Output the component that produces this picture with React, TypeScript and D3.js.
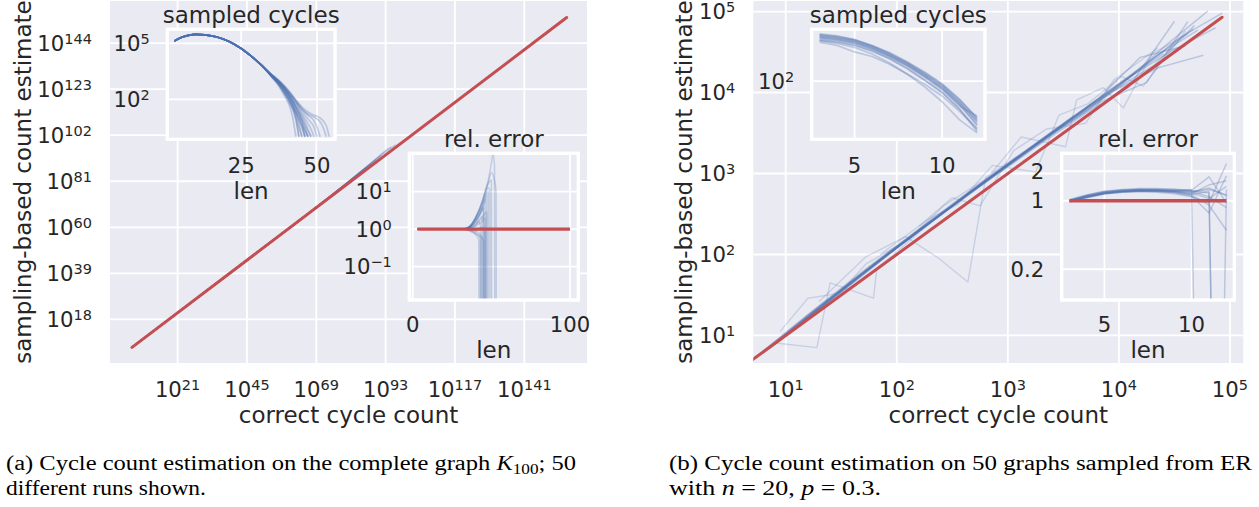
import React from "react";
import * as d3 from "d3";

// ======================= DATA =======================
const Z = -Infinity; // log10 of a zero estimate

// ---- (a) complete graph K100 ----
// cycle lengths and log10 of the true number of cycles of that length
const k100Lengths = [3, 10, 20, 28, 32, 36, 40, 41, 42, 43, 44, 45, 46, 47, 48, 49, 50, 51, 52, 53, 54, 60, 70, 80, 90, 100];
const k100TrueLog10 = [5.209, 18.497, 37.513, 52.435, 59.77, 67.01, 74.147, 75.914, 77.675, 79.428, 81.174, 82.912, 84.643, 86.366, 88.081, 89.788, 91.487, 93.177, 94.859, 96.532, 98.196, 107.979, 123.4, 137.38, 149.155, 155.669];

// sampled cycles per length (log10), shared beginning of all runs
const k100SampledHead: [number, number][] = [[3, 5.12], [5, 5.3], [8, 5.44], [10, 5.48], [13, 5.45], [17, 5.34], [21, 5.1], [25, 4.72], [28, 4.35], [32, 3.78]];
// per-run continuation [len, log10 count]; the last entry is a single sampled cycle
const k100SampledTails: [number, number][][] = [
  [[35, 3.2], [37, 2.8], [39, 2.25], [41, 1.6], [42, 1.0], [43, 0]],
  [[35, 3.24], [37, 2.88], [39, 2.4], [41, 1.85], [43, 0.9], [44, 0]],
  [[35, 3.22], [37, 2.85], [39, 2.35], [41, 1.75], [43, 1.0], [44, 0]],
  [[35, 3.27], [37, 2.95], [39, 2.55], [41, 2.05], [43, 1.3], [44, 0.7], [45, 0]],
  [[35, 3.23], [37, 2.87], [39, 2.42], [41, 1.9], [43, 1.1], [44, 0.5], [45, 0]],
  [[35, 3.28], [37, 2.97], [39, 2.6], [41, 2.12], [43, 1.5], [45, 0.6], [46, 0]],
  [[35, 3.25], [37, 2.9], [39, 2.47], [41, 1.95], [43, 1.3], [45, 0.45], [46, 0]],
  [[35, 3.3], [37, 3.0], [39, 2.63], [41, 2.18], [43, 1.6], [45, 0.8], [46, 0]],
  [[35, 3.29], [37, 2.98], [39, 2.62], [41, 2.16], [43, 1.6], [45, 0.95], [46, 0.5], [47, 0]],
  [[35, 3.26], [37, 2.93], [39, 2.52], [41, 2.02], [43, 1.42], [45, 0.8], [46, 0.4], [47, 0]],
  [[35, 3.24], [37, 2.89], [39, 2.45], [41, 1.92], [43, 1.3], [45, 0.6], [46, 0.3], [47, 0]],
  [[35, 3.31], [37, 3.02], [39, 2.67], [41, 2.25], [43, 1.75], [45, 1.15], [47, 0.4], [48, 0]],
  [[35, 3.28], [37, 2.96], [39, 2.58], [41, 2.12], [43, 1.6], [45, 1.0], [47, 0.3], [48, 0]],
  [[35, 3.3], [37, 3.01], [39, 2.66], [41, 2.25], [43, 1.78], [45, 1.25], [47, 0.7], [48, 0.4], [49, 0]],
  [[35, 3.32], [37, 3.04], [39, 2.7], [41, 2.32], [43, 1.88], [45, 1.4], [47, 0.95], [49, 0.5], [50, 0]],
  [[35, 3.33], [37, 3.06], [39, 2.74], [41, 2.36], [43, 1.93], [45, 1.5], [47, 1.15], [49, 0.85], [50, 0.5], [51, 0]],
  [[35, 3.32], [37, 3.05], [39, 2.72], [41, 2.33], [43, 1.9], [45, 1.5], [47, 1.2], [49, 1.05], [51, 0.8], [52, 0.5], [53, 0]],
  [[35, 3.34], [37, 3.08], [39, 2.77], [41, 2.4], [43, 1.98], [45, 1.6], [47, 1.32], [49, 1.15], [51, 1.0], [53, 0.6], [54, 0]],
];
// relative error (log10 of estimate / true), shared beginning and per-run continuation
const k100RelErrHead: [number, number][] = [[3, 0], [10, 0], [20, 0], [28, 0]];
const k100RelErrTails: [number, number][][] = [
  [[32, 0], [36, -0.05], [40, -0.15], [42, -0.3], [43, Z]],
  [[32, 0], [36, 0.03], [40, 0.1], [42, 0.2], [43, 0.1], [44, Z]],
  [[32, 0], [36, -0.02], [40, -0.1], [43, -0.25], [44, Z]],
  [[32, 0], [36, 0.04], [40, 0.15], [43, 0.3], [44, 0.35], [45, Z]],
  [[32, 0], [36, 0], [40, -0.05], [44, -0.2], [45, Z]],
  [[32, 0], [36, 0.05], [40, 0.2], [43, 0.4], [45, 0.55], [46, Z]],
  [[32, 0], [36, -0.03], [40, -0.12], [43, -0.2], [45, -0.3], [46, Z]],
  [[32, 0], [36, 0.06], [40, 0.25], [43, 0.45], [45, 0.6], [46, Z]],
  [[32, 0], [36, 0.02], [40, 0.08], [44, 0.2], [46, 0.3], [47, Z]],
  [[32, 0], [36, 0.05], [40, 0.3], [44, 0.6], [46, 0.8], [47, Z]],
  [[32, 0], [36, -0.02], [40, -0.05], [44, 0.05], [46, 0], [47, Z]],
  [[32, 0], [36, 0.04], [40, 0.22], [44, 0.5], [46, 0.75], [47, 0.9], [48, Z]],
  [[32, 0], [36, 0.03], [40, 0.12], [44, 0.3], [47, 0.45], [48, Z]],
  [[32, 0], [36, 0.05], [40, 0.2], [44, 0.55], [46, 0.85], [48, 1.0], [49, Z]],
  [[32, 0], [36, 0.06], [40, 0.28], [44, 0.65], [46, 0.9], [48, 1.1], [49, 1.05], [50, Z]],
  [[32, 0], [36, 0.07], [40, 0.3], [44, 0.7], [46, 0.95], [48, 1.2], [50, 1.3], [51, Z]],
  [[32, 0], [36, 0.06], [40, 0.3], [44, 0.7], [46, 1.0], [48, 1.3], [50, 1.75], [51, 2.0], [52, 1.7], [53, Z]],
  [[32, 0], [36, 0.07], [40, 0.32], [44, 0.72], [46, 1.0], [48, 1.25], [50, 1.5], [52, 1.3], [53, 1.0], [54, Z]],
];

// ---- (b) 50 ER graphs, n = 20, p = 0.3 ----
const erLengths = [3, 4, 5, 6, 7, 8, 9, 10, 11, 12];
const erTrueLog10: number[][] = [
  [1.12, 1.58, 2.02, 2.44, 2.9, 3.3, 3.74, 4.13, 4.55, 4.93],
  [1.05, 1.49, 1.95, 2.39, 2.81, 3.25, 3.65, 4.08, 4.46, 4.87],
  [1.03, 1.44, 1.88, 2.34, 2.76, 3.2, 3.62, 4.01, 4.43, 4.8],
  [0.98, 1.43, 1.87, 2.29, 2.75, 3.15, 3.59, 3.98, 4.4, 4.77],
  [0.97, 1.38, 1.84, 2.27, 2.7, 3.14, 3.54, 3.97, 4.35, 4.76],
  [0.92, 1.37, 1.79, 2.25, 2.67, 3.11, 3.51, 3.94, 4.32, 4.71],
  [0.91, 1.32, 1.78, 2.2, 2.66, 3.06, 3.5, 3.89, 4.31, 4.68],
  [0.86, 1.31, 1.73, 2.19, 2.61, 3.05, 3.45, 3.88, 4.26, 4.67],
  [0.85, 1.26, 1.72, 2.14, 2.6, 3.0, 3.44, 3.83, 4.25, 4.62],
  [0.79, 1.24, 1.66, 2.12, 2.54, 2.98, 3.38, 3.81, 4.19, 4.6],
  [0.76, 1.17, 1.63, 2.05, 2.51, 2.91, 3.35, 3.74, 4.16, 4.53],
  [0.7, 1.14, 1.56, 2.02, 2.44, 2.88, 3.28, 3.71, 4.09, 4.5],
];
const erRatio: number[][] = [
  [1.0, 1.1, 1.2, 1.25, 1.28, 1.27, 1.25, 1.22, 1.35, 1.12],
  [1.0, 1.12, 1.22, 1.27, 1.3, 1.3, 1.28, 1.25, 1.1, 0.85],
  [0.98, 1.08, 1.18, 1.24, 1.26, 1.26, 1.24, 1.18, 1.45, 1.6],
  [1.02, 1.14, 1.24, 1.29, 1.31, 1.31, 1.3, 1.27, 1.2, 0],
  [1.0, 1.09, 1.19, 1.23, 1.25, 1.25, 1.22, 1.15, 0.9, 0.5],
  [0.99, 1.11, 1.21, 1.26, 1.29, 1.29, 1.27, 1.24, 1.3, 1.15],
  [1.01, 1.13, 1.23, 1.28, 1.3, 1.29, 1.26, 1.2, 1.05, 1.4],
  [1.0, 1.1, 1.19, 1.24, 1.27, 1.28, 1.26, 1.3, 0, 1.3],
  [0.97, 1.07, 1.17, 1.22, 1.25, 1.24, 1.21, 1.12, 0.75, 1.8],
  [1.03, 1.15, 1.25, 1.3, 1.33, 1.33, 1.31, 1.28, 1.75, 0.95],
  [1.0, 1.12, 1.2, 1.25, 1.27, 1.26, 1.23, 1.16, 1.25, 0],
  [0.98, 1.09, 1.18, 1.22, 1.24, 1.22, 1.18, 1.1, 0.95, 2.4],
];
const erSampledLog10: number[][] = [
  [2.73, 2.7, 2.64, 2.55, 2.43, 2.29, 2.13, 1.95, 1.71, 1.44],
  [2.71, 2.68, 2.63, 2.54, 2.42, 2.28, 2.11, 1.93, 1.67, 1.36],
  [2.69, 2.66, 2.61, 2.52, 2.4, 2.26, 2.09, 1.9, 1.64, 1.31],
  [2.7, 2.67, 2.62, 2.53, 2.41, 2.27, 2.11, 1.93, 1.69, 1.4],
  [2.64, 2.61, 2.56, 2.47, 2.35, 2.2, 2.02, 1.83, 1.57, 1.25],
  [2.68, 2.65, 2.6, 2.51, 2.39, 2.25, 2.08, 1.9, 1.66, 1.38],
  [2.6, 2.55, 2.45, 2.38, 2.26, 2.11, 1.95, 1.77, 1.53, 1.27],
  [2.66, 2.63, 2.58, 2.49, 2.37, 2.23, 2.06, 1.87, 1.61, 1.46],
  [2.62, 2.58, 2.52, 2.42, 2.28, 2.11, 1.91, 1.68, 1.4, 1.2],
  [2.72, 2.69, 2.64, 2.55, 2.44, 2.3, 2.14, 1.96, 1.72, 1.42],
  [2.63, 2.6, 2.55, 2.46, 2.34, 2.19, 2.01, 1.82, 1.56, 1.22],
  [2.67, 2.64, 2.59, 2.5, 2.38, 2.24, 2.07, 1.88, 1.63, 1.33],
];
// noisier runs in the main ER panel: [log10 correct, log10 estimate]
const erNoisyRuns: [number, number][][] = [
  [[0.89, 0.91], [1.28, 0.85], [1.4, 1.65], [1.79, 1.46], [1.82, 1.82], [2.25, 2.33], [2.68, 2.8], [3.1, 3.22]],
  [[1.3, 1.42], [1.72, 1.97], [2.08, 2.22], [2.38, 1.95], [2.64, 1.66], [2.8, 2.95], [3.22, 3.34], [3.6, 3.72]],
  [[0.95, 1.05], [1.2, 1.46], [1.48, 1.52], [1.72, 1.88], [2.12, 2.2], [2.42, 2.6], [2.9, 3.02]],
  [[2.85, 3.0], [3.12, 3.45], [3.52, 3.33], [3.62, 3.91], [3.86, 4.06], [4.04, 3.81], [4.3, 4.48], [4.62, 4.72]],
  [[1.85, 2.0], [2.3, 2.45], [2.55, 2.62], [2.86, 3.1], [3.25, 3.02], [3.46, 3.72], [3.72, 3.86], [4.02, 4.2], [4.22, 4.08], [4.6, 4.76]],
  [[2.2, 2.35], [2.5, 2.7], [2.75, 2.6], [3.05, 3.28], [3.35, 3.55], [3.7, 3.62], [3.95, 4.15], [4.35, 4.55]],
];
const erRefRange = [5, 85000];

// ---- ticks ----
const k100XTicks = [21, 45, 69, 93, 117, 141];
const k100YTicks = [18, 39, 60, 81, 102, 123, 144];
const erMainTicks = [1, 2, 3, 4, 5];
const k100SampXTicks = [25, 50];
const k100SampYTicks = [2, 5];
const k100RelXTicks = [0, 100];
const k100RelYTicks = [-1, 0, 1];
const erSampXTicks = [5, 10];
const erSampYTicks = [2];
const erRelXTicks = [5, 10];
const erRelYTicks = [0.2, 1, 2];
const erRelYTickLabels = ["0.2", "1", "2"];

// ======================= STYLE =======================
const BG = "#EAEAF2";
const BLUE = "#4C72B0";
const RED = "#C44E52";
const TXT = "#262626";
const FONT = "'DejaVu Sans', sans-serif";
const SERIF = "'Liberation Serif', 'Times New Roman', serif";
const TICK_FS = 21.2;
const SUP_FS = 14.5;
const LABEL_FS = 23;
const GRID_W = 1.8;

type P = [number, number];
const lin = d3.line<P>().x((d) => d[0]).y((d) => d[1]);
const mono = d3.line<P>().x((d) => d[0]).y((d) => d[1]).curve(d3.curveMonotoneX);
const pw = (e: number, floor: number) => Math.pow(10, e === Z ? floor : e);
const supTxt = (e: number) => (e < 0 ? "\u2212" + Math.abs(e) : String(e));

function Pow({ x, y, e, anchor }: { x: number; y: number; e: number; anchor: "start" | "middle" | "end" }) {
  return (
    <text x={x} y={y} textAnchor={anchor} fontFamily={FONT} fontSize={TICK_FS} fill={TXT}>
      10
      <tspan dy={-7} fontSize={SUP_FS}>{supTxt(e)}</tspan>
    </text>
  );
}

function Txt({ x, y, children, anchor = "middle", size = TICK_FS }: any) {
  return (
    <text x={x} y={y} textAnchor={anchor} fontFamily={FONT} fontSize={size} fill={TXT}>
      {children}
    </text>
  );
}

function Frame({ id, x0, x1, y0, y1, border }: { id: string; x0: number; x1: number; y0: number; y1: number; border?: boolean }) {
  return (
    <>
      <clipPath id={id}>
        <rect x={x0} y={y0} width={x1 - x0} height={y1 - y0} />
      </clipPath>
      <rect x={x0} y={y0} width={x1 - x0} height={y1 - y0} fill={BG} stroke={border ? "#ffffff" : "none"} strokeWidth={border ? 3 : 0} />
    </>
  );
}

export default function App() {
  // ---------- scales ----------
  const xK = d3.scaleLog().domain([10 ** -2.4, 10 ** 162.7]).range([110, 587]);
  const yK = d3.scaleLog().domain([10 ** -1.9, 10 ** 163.2]).range([363, 1]);
  const xE = d3.scaleLog().domain([10 ** 0.708, 10 ** 5.12]).range([753.3, 1243.3]);
  const yE = d3.scaleLog().domain([10 ** 0.66, 10 ** 5.13]).range([363, 1]);
  const sxK = d3.scaleLinear().domain([0.66, 55.9]).range([167.3, 335]);
  const syK = d3.scaleLog().domain([10 ** -0.14, 10 ** 5.75]).range([139.3, 29.3]);
  const rxK = d3.scaleLinear().domain([-2.2, 105.3]).range([409.3, 578.3]);
  const ryK = d3.scaleLog().domain([10 ** -1.89, 10 ** 2.02]).range([300, 153.3]);
  const sxE = d3.scaleLinear().domain([2.55, 12.45]).range([811.7, 985]);
  const syE = d3.scaleLog().domain([10 ** 1.1, 10 ** 2.8]).range([139.3, 29.3]);
  const rxE = d3.scaleLinear().domain([2.55, 12.45]).range([1061.7, 1234.3]);
  const ryE = d3.scaleLog().domain([10 ** -1.013, 10 ** 0.484]).range([300, 153.3]);

  const box = (xs: any, ys: any) => {
    const [x0, x1] = xs.range();
    const [y1, y0] = ys.range();
    return { x0, x1, y0, y1 };
  };
  const bK = box(xK, yK);
  const bE = box(xE, yE);
  const bsK = box(sxK, syK);
  const brK = box(rxK, ryK);
  const bsE = box(sxE, syE);
  const brE = box(rxE, ryE);

  const trueK = (L: number) => k100TrueLog10[k100Lengths.indexOf(L)];
  const kFirst = k100TrueLog10[0];
  const kLast = k100TrueLog10[k100TrueLog10.length - 1];

  // ---------- paths ----------
  const k100MainRuns = k100RelErrTails.map((tail) =>
    [...k100RelErrHead, ...tail]
      .filter(([, r]) => r !== Z)
      .map(([L, r]) => [xK(10 ** trueK(L)), yK(10 ** (trueK(L) + r))] as P)
  );
  const k100SampRuns = k100SampledTails.map((tail) =>
    [...k100SampledHead, ...tail].map(([L, v]) => [sxK(L), syK(pw(v, -20))] as P)
  );
  const k100RelRuns = k100RelErrTails.map((tail) =>
    [...k100RelErrHead, ...tail].map(([L, r]) => [rxK(L), ryK(pw(r, -20))] as P)
  );

  const erMainRuns = erTrueLog10.map((row, g) =>
    row
      .map((t, i) => ({ t, r: erRatio[g][i] }))
      .filter((d) => d.r > 0)
      .map((d) => [xE(10 ** d.t), yE(10 ** d.t * d.r)] as P)
  );
  const erNoisy = erNoisyRuns.map((run) => run.map(([a, b]) => [xE(10 ** a), yE(10 ** b)] as P));
  const erSampRuns = erSampledLog10.map((row) => row.map((v, i) => [sxE(erLengths[i]), syE(10 ** v)] as P));
  const erRelRuns = erRatio.map((row) =>
    row.map((r, i) => [rxE(erLengths[i]), ryE(r > 0 ? r : 1e-10)] as P)
  );

  const gridV = (xs: number[], b: any, key: string) =>
    xs.map((x, i) => <line key={key + i} x1={x} x2={x} y1={b.y0} y2={b.y1} stroke="#fff" strokeWidth={GRID_W} />);
  const gridH = (ys: number[], b: any, key: string) =>
    ys.map((y, i) => <line key={key + i} x1={b.x0} x2={b.x1} y1={y} y2={y} stroke="#fff" strokeWidth={GRID_W} />);

  const blue = (d: P[], i: number, gen: any, op: number, w: number, clip: string) => (
    <path key={clip + i} d={gen(d) || ""} fill="none" stroke={BLUE} strokeOpacity={op} strokeWidth={w} clipPath={`url(#${clip})`} strokeLinejoin="round" />
  );

  const midK = (bK.x0 + bK.x1) / 2;
  const midE = (bE.x0 + bE.x1) / 2;
  const midY = (bK.y0 + bK.y1) / 2;

  return (
    <svg width={1259} height={507} style={{ position: "absolute", left: 0, top: 0, background: "#fff" }}>
      <rect x={0} y={0} width={1259} height={507} fill="#fff" />

      {/* ================= (a) main ================= */}
      <Frame id="clipK" {...bK} />
      {gridV(k100XTicks.map((e) => xK(10 ** e)), bK, "gkx")}
      {gridH(k100YTicks.map((e) => yK(10 ** e)), bK, "gky")}
      {k100MainRuns.map((d, i) => blue(d, i, lin, 0.3, 1.5, "clipK"))}
      <path
        d={lin([[xK(10 ** kFirst), yK(10 ** kFirst)], [xK(10 ** kLast), yK(10 ** kLast)]]) || ""}
        stroke={RED} strokeWidth={3} fill="none" clipPath="url(#clipK)" strokeLinecap="round"
      />

      {/* inset: sampled cycles (a) */}
      <Frame id="clipSK" {...bsK} border />
      {gridV(k100SampXTicks.map((v) => sxK(v)), bsK, "gsx")}
      {gridH(k100SampYTicks.map((e) => syK(10 ** e)), bsK, "gsy")}
      {k100SampRuns.map((d, i) => blue(d, i, mono, 0.3, 1.7, "clipSK"))}
      <rect x={bsK.x0} y={bsK.y0} width={bsK.x1 - bsK.x0} height={bsK.y1 - bsK.y0} fill="none" stroke="#fff" strokeWidth={3} />

      {/* inset: rel. error (a) */}
      <Frame id="clipRK" {...brK} border />
      {gridV(k100RelXTicks.map((v) => rxK(v)), brK, "grx")}
      {gridH(k100RelYTicks.map((e) => ryK(10 ** e)), brK, "gry")}
      {k100RelRuns.map((d, i) => blue(d, i, mono, 0.25, 1.5, "clipRK"))}
      <path
        d={lin([[rxK(k100Lengths[0]), ryK(1)], [rxK(k100Lengths[k100Lengths.length - 1]), ryK(1)]]) || ""}
        stroke={RED} strokeWidth={3.3} fill="none" clipPath="url(#clipRK)"
      />
      <rect x={brK.x0} y={brK.y0} width={brK.x1 - brK.x0} height={brK.y1 - brK.y0} fill="none" stroke="#fff" strokeWidth={3} />

      {/* ================= (b) main ================= */}
      <Frame id="clipE" {...bE} />
      {gridV(erMainTicks.map((e) => xE(10 ** e)), bE, "gex")}
      {gridH(erMainTicks.map((e) => yE(10 ** e)), bE, "gey")}
      {erNoisy.map((d, i) => blue(d, i, lin, 0.22, 1.4, "clipE"))}
      {erMainRuns.map((d, i) => blue(d, 100 + i, lin, 0.3, 1.5, "clipE"))}
      <path
        d={lin([[xE(erRefRange[0]), yE(erRefRange[0])], [xE(erRefRange[1]), yE(erRefRange[1])]]) || ""}
        stroke={RED} strokeWidth={3} fill="none" clipPath="url(#clipE)" strokeLinecap="round"
      />

      {/* inset: sampled cycles (b) */}
      <Frame id="clipSE" {...bsE} border />
      {gridV(erSampXTicks.map((v) => sxE(v)), bsE, "gsex")}
      {gridH(erSampYTicks.map((e) => syE(10 ** e)), bsE, "gsey")}
      {erSampRuns.map((d, i) => blue(d, i, lin, 0.3, 1.7, "clipSE"))}
      <rect x={bsE.x0} y={bsE.y0} width={bsE.x1 - bsE.x0} height={bsE.y1 - bsE.y0} fill="none" stroke="#fff" strokeWidth={3} />

      {/* inset: rel. error (b) */}
      <Frame id="clipRE" {...brE} border />
      {gridV(erRelXTicks.map((v) => rxE(v)), brE, "grex")}
      {gridH(erRelYTicks.map((v) => ryE(v)), brE, "grey")}
      {erRelRuns.map((d, i) => blue(d, i, lin, 0.3, 1.5, "clipRE"))}
      <path
        d={lin([[rxE(erLengths[0]), ryE(1)], [rxE(erLengths[erLengths.length - 1]), ryE(1)]]) || ""}
        stroke={RED} strokeWidth={3.3} fill="none" clipPath="url(#clipRE)"
      />
      <rect x={brE.x0} y={brE.y0} width={brE.x1 - brE.x0} height={brE.y1 - brE.y0} fill="none" stroke="#fff" strokeWidth={3} />

      {/* ================= text (a) ================= */}
      {k100XTicks.map((e) => <Pow key={"kx" + e} x={xK(10 ** e)} y={bK.y1 + 33.5} e={e} anchor="middle" />)}
      {k100YTicks.map((e) => <Pow key={"ky" + e} x={bK.x0 - 18} y={yK(10 ** e) + 7.5} e={e} anchor="end" />)}
      <Txt x={midK} y={423.3} size={LABEL_FS}>correct cycle count</Txt>
      <text transform={`translate(31,${midY}) rotate(-90)`} textAnchor="middle" fontFamily={FONT} fontSize={LABEL_FS} fill={TXT}>
        sampling-based count estimate
      </text>

      <Txt x={(bsK.x0 + bsK.x1) / 2} y={22.7} size={LABEL_FS}>sampled cycles</Txt>
      {k100SampXTicks.map((v) => <Txt key={"skx" + v} x={sxK(v)} y={bsK.y1 + 33.4}>{v}</Txt>)}
      {k100SampYTicks.map((e) => <Pow key={"sky" + e} x={bsK.x0 - 17.5} y={syK(10 ** e) + 7.5} e={e} anchor="end" />)}
      <Txt x={(bsK.x0 + bsK.x1) / 2} y={199.3} size={LABEL_FS}>len</Txt>

      <Txt x={(brK.x0 + brK.x1) / 2} y={146.7} size={LABEL_FS}>rel. error</Txt>
      {k100RelXTicks.map((v) => <Txt key={"rkx" + v} x={rxK(v)} y={brK.y1 + 31.7}>{v}</Txt>)}
      {k100RelYTicks.map((e) => <Pow key={"rky" + e} x={brK.x0 - 17.5} y={ryK(10 ** e) + 7.5} e={e} anchor="end" />)}
      <Txt x={(brK.x0 + brK.x1) / 2} y={358} size={LABEL_FS}>len</Txt>

      {/* ================= text (b) ================= */}
      {erMainTicks.map((e) => <Pow key={"ex" + e} x={xE(10 ** e)} y={bE.y1 + 33.5} e={e} anchor="middle" />)}
      {erMainTicks.map((e) => <Pow key={"ey" + e} x={bE.x0 - 18} y={yE(10 ** e) + 7.5} e={e} anchor="end" />)}
      <Txt x={midE} y={423.3} size={LABEL_FS}>correct cycle count</Txt>
      <text transform={`translate(692,${midY}) rotate(-90)`} textAnchor="middle" fontFamily={FONT} fontSize={LABEL_FS} fill={TXT}>
        sampling-based count estimate
      </text>

      <Txt x={(bsE.x0 + bsE.x1) / 2} y={22.7} size={LABEL_FS}>sampled cycles</Txt>
      {erSampXTicks.map((v) => <Txt key={"sex" + v} x={sxE(v)} y={bsE.y1 + 33.4}>{v}</Txt>)}
      {erSampYTicks.map((e) => <Pow key={"sey" + e} x={bsE.x0 - 17.5} y={syE(10 ** e) + 7.5} e={e} anchor="end" />)}
      <Txt x={(bsE.x0 + bsE.x1) / 2} y={199.3} size={LABEL_FS}>len</Txt>

      <Txt x={(brE.x0 + brE.x1) / 2} y={146.7} size={LABEL_FS}>rel. error</Txt>
      {erRelXTicks.map((v) => <Txt key={"rex" + v} x={rxE(v)} y={brE.y1 + 31.7}>{v}</Txt>)}
      {erRelYTicks.map((v, i) => (
        <Txt key={"rey" + v} x={brE.x0 - 17.5} y={ryE(v) + 7.7} anchor="end">{erRelYTickLabels[i]}</Txt>
      ))}
      <Txt x={(brE.x0 + brE.x1) / 2} y={358} size={LABEL_FS}>len</Txt>

      {/* ================= captions ================= */}
      <g fontFamily={SERIF} fontSize={20} fill="#000">
        <text x={6} y={470} textLength={570} lengthAdjust="spacingAndGlyphs">
          (a) Cycle count estimation on the complete graph <tspan fontStyle="italic">K</tspan>
          <tspan fontSize={14} dy={4}>100</tspan>
          <tspan dy={-4}>; 50</tspan>
        </text>
        <text x={6} y={495} textLength={200} lengthAdjust="spacingAndGlyphs">different runs shown.</text>
        <text x={669} y={470} textLength={583} lengthAdjust="spacingAndGlyphs">
          (b) Cycle count estimation on 50 graphs sampled from ER
        </text>
        <text x={669} y={495} textLength={212} lengthAdjust="spacingAndGlyphs">
          with <tspan fontStyle="italic">n</tspan> = 20, <tspan fontStyle="italic">p</tspan> = 0.3.
        </text>
      </g>
    </svg>
  );
}
